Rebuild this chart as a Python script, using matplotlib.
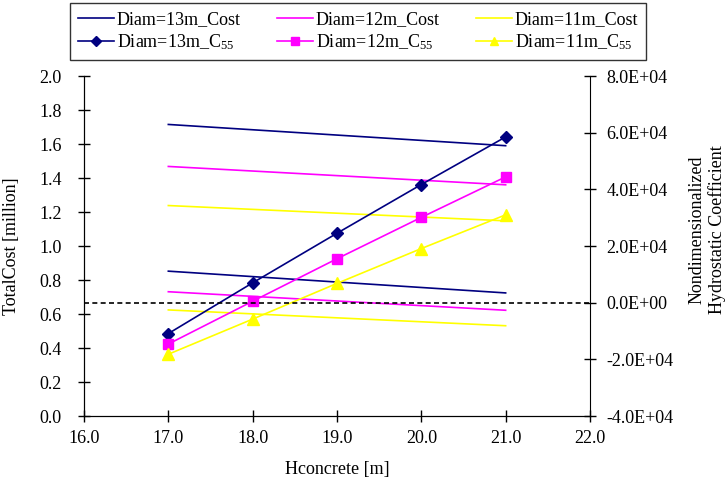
import numpy as np
import matplotlib
matplotlib.use('Agg')
from matplotlib import pyplot as plt
from matplotlib.ticker import FormatStrFormatter, FuncFormatter

plt.rcParams['font.family'] = ['Liberation Serif', 'DejaVu Serif']
plt.rcParams['mathtext.fontset'] = 'custom'
plt.rcParams['mathtext.rm'] = 'Liberation Serif'
plt.rcParams['font.size'] = 13

# Costo totale (milioni) - solo estremi delle rette
h_cost = [17.0, 21.0]
cost13_hi = [1.715, 1.590]
cost12_hi = [1.468, 1.360]
cost11_hi = [1.238, 1.148]
cost13_lo = [0.852, 0.724]
cost12_lo = [0.731, 0.622]
cost11_lo = [0.624, 0.531]

# Coefficiente idrostatico adimensionale C55
h_c55 = [17.0, 18.0, 19.0, 20.0, 21.0]
c55_13 = [-10900, 7000, 24500, 41700, 58500]
c55_12 = [-14600, 500, 15500, 30100, 44400]
c55_11 = [-18200, -5800, 6800, 19100, 31000]

navy = '#000080'
magenta = '#FF00FF'
yellow = '#FFFF00'

fig = plt.figure(figsize=(7.28, 4.78), dpi=100)
ax = fig.add_axes([0.1154, 0.1297, 0.695, 0.7113])
ax2 = ax.twinx()

l1, = ax.plot(h_cost, cost13_hi, color=navy, lw=1.2, label='Diam=13m_Cost')
l2, = ax.plot(h_cost, cost12_hi, color=magenta, lw=1.2, label='Diam=12m_Cost')
l3, = ax.plot(h_cost, cost11_hi, color=yellow, lw=1.2, label='Diam=11m_Cost')
ax.plot(h_cost, cost13_lo, color=navy, lw=1.2)
ax.plot(h_cost, cost12_lo, color=magenta, lw=1.2)
ax.plot(h_cost, cost11_lo, color=yellow, lw=1.2)

l4, = ax2.plot(h_c55, c55_13, color=navy, lw=1.2, marker='D', ms=6,
               label=r'Diam=13m_C$\mathregular{_{55}}$')
l5, = ax2.plot(h_c55, c55_12, color=magenta, lw=1.2, marker='s', ms=7.5,
               label=r'Diam=12m_C$\mathregular{_{55}}$')
l6, = ax2.plot(h_c55, c55_11, color=yellow, lw=1.2, marker='^', ms=8,
               label=r'Diam=11m_C$\mathregular{_{55}}$')
ax2.axhline(0, color='black', lw=1.2, ls=(0, (3, 2)))

ax.set_xlim(16, 22)
ax.set_ylim(0, 2.0)
ax2.set_ylim(-40000, 80000)
ax.set_xticks(np.arange(16, 22.1, 1.0))
ax.set_yticks(np.arange(0, 2.01, 0.2))
ax2.set_yticks(np.arange(-40000, 80001, 20000))
ax.xaxis.set_major_formatter(FormatStrFormatter('%.1f'))
ax.yaxis.set_major_formatter(FormatStrFormatter('%.1f'))
ax2.yaxis.set_major_formatter(FuncFormatter(lambda v, p: f'{v:.1E}'))

for a in (ax, ax2):
    a.spines['top'].set_visible(False)
    a.tick_params(direction='inout', length=8, width=1, labelsize=13)
ax.spines['right'].set_visible(False)
ax.tick_params(axis='y', pad=12)
ax.tick_params(axis='x', pad=6)
ax2.tick_params(axis='y', pad=8)

ax.set_xlabel('Hconcrete [m]', fontsize=13, labelpad=10)
ax.set_ylabel('TotalCost [million]', fontsize=13)
ax.yaxis.set_label_coords(-0.126, 0.5)
ax2.set_ylabel('Nondimensionalized\nHydrostatic Coefficient', fontsize=13)
ax2.yaxis.set_label_coords(1.194, 0.547)

# legenda compilata per righe
leg = fig.legend(handles=[l1, l4, l2, l5, l3, l6], ncol=3,
                 loc='upper left', bbox_to_anchor=(0.0962, 0.9937),
                 borderaxespad=0, frameon=True, fancybox=False,
                 edgecolor='black', fontsize=13, handlelength=2.0,
                 handletextpad=0.15, columnspacing=2.0, borderpad=0.45,
                 labelspacing=0.25, markerscale=0.8)
leg.get_frame().set_linewidth(1.0)

fig.savefig('out.png', dpi=100)
